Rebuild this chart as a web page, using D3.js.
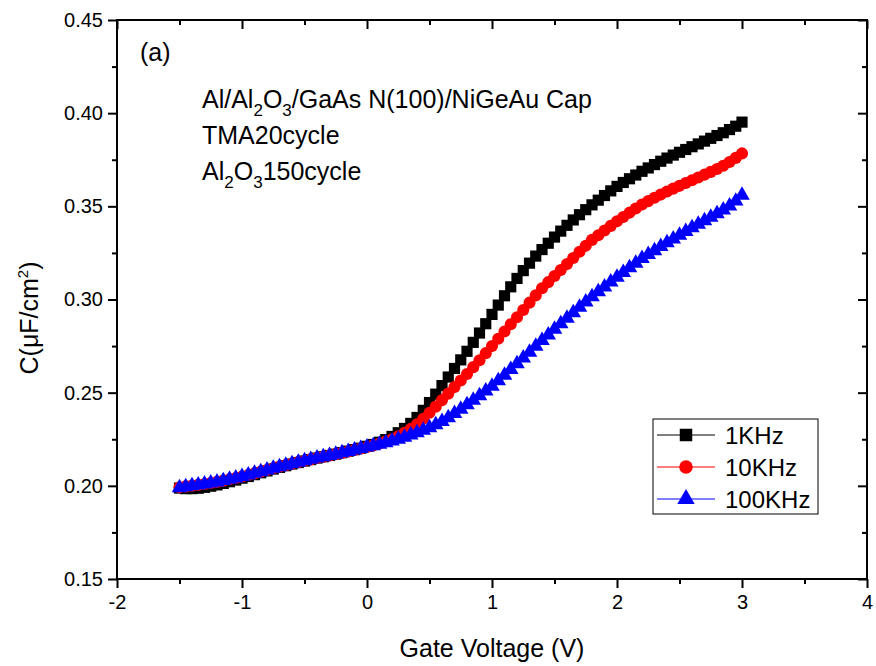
<!DOCTYPE html>
<html><head><meta charset="utf-8">
<script src="https://cdn.jsdelivr.net/npm/d3@7"></script>
<style>body{margin:0;background:#fff}svg text{font-family:"Liberation Sans",Arial,sans-serif;fill:#000}</style>
</head><body><svg id="c" width="876" height="666"></svg>
<script>
const voltage = [-1.50,-1.45,-1.40,-1.35,-1.30,-1.25,-1.20,-1.15,-1.10,-1.05,-1.00,-0.95,-0.90,-0.85,-0.80,-0.75,-0.70,-0.65,-0.60,-0.55,-0.50,-0.45,-0.40,-0.35,-0.30,-0.25,-0.20,-0.15,-0.10,-0.05,0.00,
0.05,0.10,0.15,0.20,0.25,0.30,0.35,0.40,0.45,0.50,0.55,0.60,0.65,0.70,0.75,0.80,0.85,0.90,0.95,1.00,
1.05,1.10,1.15,1.20,1.25,1.30,1.35,1.40,1.45,1.50,1.55,1.60,1.65,1.70,1.75,1.80,1.85,1.90,1.95,2.00,
2.05,2.10,2.15,2.20,2.25,2.30,2.35,2.40,2.45,2.50,2.55,2.60,2.65,2.70,2.75,2.80,2.85,2.90,2.95,3.00];

const c1k = [0.1988,0.1985,0.1985,0.1987,0.1992,0.1998,0.2005,0.2013,0.2022,0.2031,0.2041,0.2050,0.2060,0.2070,0.2080,0.2090,0.2099,0.2108,0.2117,0.2125,0.2133,0.2141,0.2149,0.2156,0.2163,0.2170,0.2178,0.2186,0.2194,0.2202,0.2212,
0.2222,0.2234,0.2248,0.2265,0.2285,0.2308,0.2335,0.2367,0.2405,0.2447,0.2492,0.2538,0.2584,0.2630,0.2676,0.2722,0.2770,0.2820,0.2870,0.2920,
0.2970,0.3020,0.3068,0.3113,0.3155,0.3195,0.3233,0.3268,0.3302,0.3335,0.3367,0.3398,0.3427,0.3455,0.3482,0.3508,0.3533,0.3558,0.3583,0.3607,
0.3628,0.3648,0.3668,0.3688,0.3706,0.3724,0.3742,0.3759,0.3775,0.3790,0.3805,0.3820,0.3835,0.3850,0.3865,0.3880,0.3895,0.3912,0.3930,0.3952];

const c10k = [0.1992,0.1997,0.2001,0.2005,0.2010,0.2015,0.2021,0.2028,0.2035,0.2042,0.2050,0.2058,0.2067,0.2076,0.2085,0.2094,0.2103,0.2111,0.2119,0.2127,0.2135,0.2142,0.2149,0.2156,0.2163,0.2170,0.2177,0.2184,0.2192,0.2200,0.2208,
0.2217,0.2227,0.2238,0.2250,0.2266,0.2285,0.2306,0.2330,0.2360,0.2392,0.2425,0.2460,0.2495,0.2530,0.2565,0.2600,0.2637,0.2674,0.2712,0.2750,
0.2789,0.2828,0.2867,0.2905,0.2944,0.2983,0.3022,0.3060,0.3093,0.3126,0.3158,0.3190,0.3223,0.3256,0.3288,0.3320,0.3345,0.3370,0.3395,0.3420,
0.3443,0.3466,0.3488,0.3510,0.3528,0.3546,0.3563,0.3580,0.3595,0.3610,0.3625,0.3640,0.3655,0.3670,0.3685,0.3700,0.3718,0.3738,0.3760,0.3784];

const c100k = [0.1990,0.1995,0.2000,0.2005,0.2010,0.2015,0.2021,0.2028,0.2035,0.2042,0.2050,0.2058,0.2067,0.2076,0.2085,0.2094,0.2103,0.2111,0.2119,0.2127,0.2135,0.2142,0.2149,0.2156,0.2163,0.2170,0.2177,0.2184,0.2192,0.2200,0.2208,
0.2215,0.2223,0.2231,0.2240,0.2250,0.2261,0.2273,0.2285,0.2298,0.2312,0.2328,0.2345,0.2366,0.2388,0.2411,0.2435,0.2459,0.2484,0.2509,0.2535,
0.2564,0.2594,0.2624,0.2655,0.2686,0.2717,0.2749,0.2780,0.2810,0.2840,0.2870,0.2900,0.2929,0.2958,0.2987,0.3015,0.3041,0.3067,0.3094,0.3120,
0.3145,0.3170,0.3195,0.3220,0.3241,0.3262,0.3284,0.3305,0.3325,0.3345,0.3365,0.3385,0.3404,0.3423,0.3441,0.3460,0.3480,0.3502,0.3528,0.3560];

const seriesNames = ["1KHz","10KHz","100KHz"];
const seriesColors = ["#000000","#ff0000","#0000ff"];
const seriesShapes = ["square","circle","triangle"];
const xTicks = [-2,-1,0,1,2,3,4];
const xTickLabels = ["-2","-1","0","1","2","3","4"];
const yTicks = [0.15,0.20,0.25,0.30,0.35,0.40,0.45];
const yTickLabels = ["0.15","0.20","0.25","0.30","0.35","0.40","0.45"];

const svg = d3.select("#c");
const L=117,R=867,T=20,B=579;
const x = d3.scaleLinear().domain([-2,4]).range([L,R]);
const y = d3.scaleLinear().domain([0.15,0.45]).range([B,T]);

const symType = {square:d3.symbolSquare, circle:d3.symbolCircle, triangle:d3.symbolTriangle};
const symSize = {square:125, circle:115, triangle:105};
const allSeries = [c1k,c10k,c100k];

allSeries.forEach((vals,i)=>{
  const data = voltage.map((v,j)=>[v,vals[j]]);
  const g = svg.append("g");
  g.append("path").datum(data)
    .attr("d", d3.line().x(d=>x(d[0])).y(d=>y(d[1])))
    .attr("fill","none").attr("stroke",seriesColors[i]).attr("stroke-width",1);
  g.selectAll("path.m").data(data).enter().append("path").attr("class","m")
    .attr("transform",d=>`translate(${x(d[0])},${y(d[1])})`)
    .attr("d", d3.symbol().type(symType[seriesShapes[i]]).size(symSize[seriesShapes[i]]))
    .attr("fill",seriesColors[i]);
});

// axes
const minorX = [-1.5,-0.5,0.5,1.5,2.5,3.5];
const minorY = [0.175,0.225,0.275,0.325,0.375,0.425];
const xAxisB = d3.axisBottom(x).tickValues(xTicks).tickSize(9).tickPadding(7).tickFormat((d,i)=>xTickLabels[i]);
const xAxisBm = d3.axisBottom(x).tickValues(minorX).tickSize(5).tickFormat("");
const yAxisL = d3.axisLeft(y).tickValues(yTicks).tickSize(9).tickPadding(5).tickFormat((d,i)=>yTickLabels[i]);
const yAxisLm = d3.axisLeft(y).tickValues(minorY).tickSize(5).tickFormat("");
const xAxisT = d3.axisBottom(x).tickValues(xTicks).tickSize(9).tickFormat("");
const xAxisTm = d3.axisBottom(x).tickValues(minorX).tickSize(5).tickFormat("");
const yAxisR = d3.axisLeft(y).tickValues(yTicks).tickSize(9).tickFormat("");
const yAxisRm = d3.axisLeft(y).tickValues(minorY).tickSize(5).tickFormat("");

function styl(g){g.select(".domain").remove();g.selectAll("line").attr("stroke","#000").attr("stroke-width",2);g.selectAll("text").attr("font-size",20).attr("fill","#000").attr("font-family","Liberation Sans, Arial, sans-serif");}
svg.append("g").attr("transform",`translate(0,${B})`).call(xAxisB).call(styl);
svg.append("g").attr("transform",`translate(0,${B})`).call(xAxisBm).call(styl);
svg.append("g").attr("transform",`translate(${L},0)`).call(yAxisL).call(styl);
svg.append("g").attr("transform",`translate(${L},0)`).call(yAxisLm).call(styl);
svg.append("g").attr("transform",`translate(0,${T})`).call(xAxisT).call(styl);
svg.append("g").attr("transform",`translate(0,${T})`).call(xAxisTm).call(styl);
svg.append("g").attr("transform",`translate(${R},0)`).call(yAxisR).call(styl);
svg.append("g").attr("transform",`translate(${R},0)`).call(yAxisRm).call(styl);
svg.append("rect").attr("x",L).attr("y",T).attr("width",R-L).attr("height",B-T)
  .attr("fill","none").attr("stroke","#000").attr("stroke-width",2);

// titles
svg.append("text").attr("x",(L+R)/2).attr("y",657).attr("text-anchor","middle").attr("font-size",25).text("Gate Voltage (V)");
const yt = svg.append("text").attr("transform","translate(38,318) rotate(-90)").attr("text-anchor","middle").attr("font-size",25);
yt.append("tspan").text("C(\u03bcF/cm");
yt.append("tspan").attr("font-size",15).attr("dy",-10).text("2");
yt.append("tspan").attr("dy",10).text(")");

// annotation
svg.append("text").attr("x",140).attr("y",61).attr("font-size",25).text("(a)");
function subText(xx,yy,parts){
  const t = svg.append("text").attr("x",xx).attr("y",yy).attr("font-size",25);
  let shifted=false;
  parts.forEach(p=>{
    const s=t.append("tspan").text(p.t);
    if(p.sub){s.attr("font-size",17).attr("dy",shifted?0:8);shifted=true;}
    else if(shifted){s.attr("dy",-8);shifted=false;}
  });
}
subText(202,108,[{t:"Al/Al"},{t:"2",sub:1},{t:"O"},{t:"3",sub:1},{t:"/GaAs N(100)/NiGeAu Cap"}]);
subText(202,144,[{t:"TMA20cycle"}]);
subText(202,180,[{t:"Al"},{t:"2",sub:1},{t:"O"},{t:"3",sub:1},{t:"150cycle"}]);

// legend
const lg = svg.append("g");
lg.append("rect").attr("x",653).attr("y",419).attr("width",165).attr("height",95).attr("fill","#fff").attr("stroke","#000").attr("stroke-width",1);
seriesNames.forEach((n,i)=>{
  const yy = 435 + i*32;
  lg.append("line").attr("x1",657).attr("x2",715).attr("y1",yy).attr("y2",yy).attr("stroke",seriesColors[i]).attr("stroke-width",1);
  lg.append("path").attr("transform",`translate(686,${yy})`)
    .attr("d",d3.symbol().type(symType[seriesShapes[i]]).size(symSize[seriesShapes[i]]*1.25)).attr("fill",seriesColors[i]);
  lg.append("text").attr("x",725).attr("y",yy+9).attr("font-size",24).text(n);
});
</script></body></html>
